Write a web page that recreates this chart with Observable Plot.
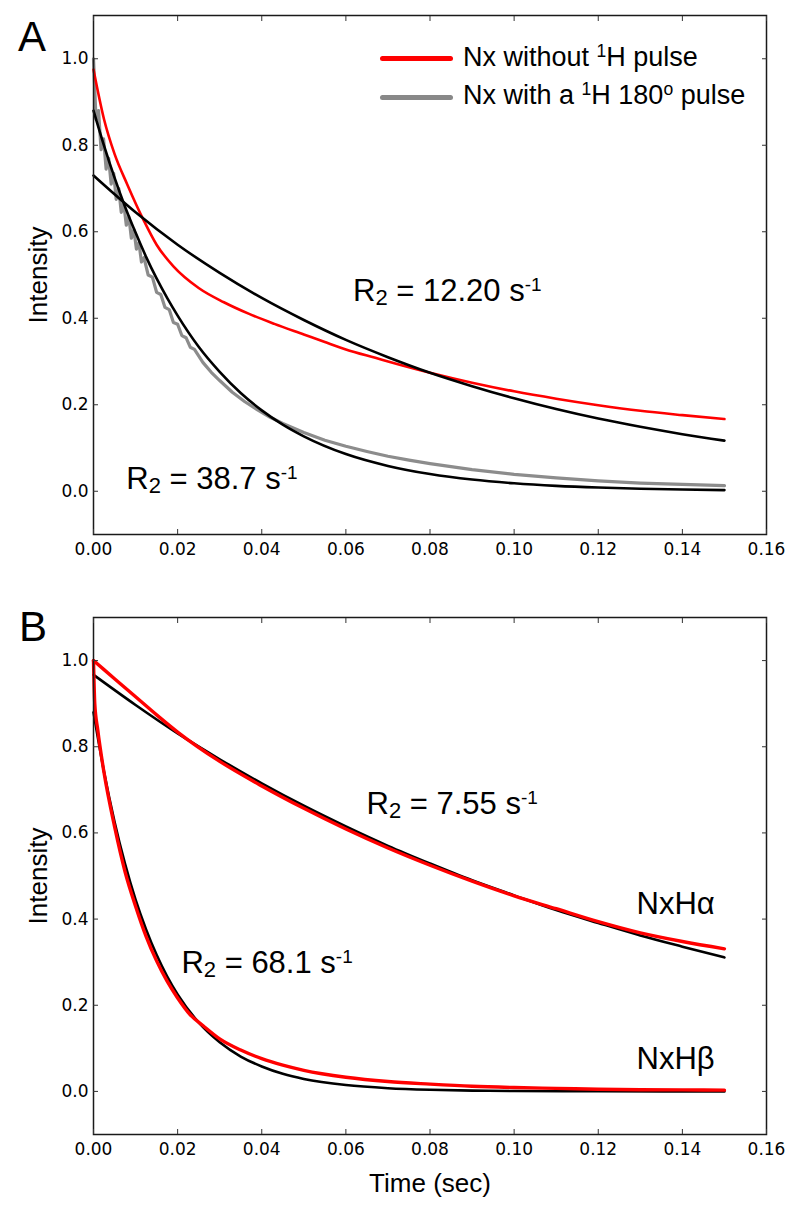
<!DOCTYPE html>
<html>
<head>
<meta charset="utf-8">
<script src="https://cdn.jsdelivr.net/npm/d3@7"></script>
<script src="https://cdn.jsdelivr.net/npm/@observablehq/plot@0.6"></script>
<style>
  body { margin: 0; background: #fff; }
  #wrap { position: relative; width: 800px; height: 1209px; overflow: hidden; }
  .panel { position: absolute; left: 0; }
  .plabel { position: absolute; font-family: "Liberation Sans", Arial, sans-serif; font-size: 42px; line-height: 42px; color: #000; }
  .lgtext { position: absolute; left: 463px; font-family: "Liberation Sans", Arial, sans-serif; font-size: 27px; line-height: 27px; color: #000; white-space: nowrap; }
  .lgtext sup { font-size: 0.65em; line-height: 0; vertical-align: 0.5em; }
  .swatch { position: absolute; left: 380px; width: 73px; height: 5px; border-radius: 3px; }
</style>
</head>
<body>
<div id="wrap">
  <div id="panelA" class="panel" style="top:0px"></div>
  <div id="panelB" class="panel" style="top:590px"></div>
  <div class="plabel" style="left:18px; top:16px">A</div>
  <div class="plabel" style="left:19px; top:606px">B</div>
  <div class="swatch" style="top:56px; background:#ff0000"></div>
  <div class="lgtext" style="top:44px">Nx without <sup>1</sup>H pulse</div>
  <div class="swatch" style="top:95px; background:#888888"></div>
  <div class="lgtext" style="top:82px">Nx with a <sup>1</sup>H 180<sup>o</sup> pulse</div>
</div>
<script>
// ---------- axis ticks ----------
const xTicks = [0, 0.02, 0.04, 0.06, 0.08, 0.10, 0.12, 0.14, 0.16];
const yTicks = [0, 0.2, 0.4, 0.6, 0.8, 1.0];

// ---------- Panel A ----------
// Nx without 1H pulse (red)
const aRedTime = [0, 0.0025, 0.005, 0.008, 0.012, 0.015, 0.019, 0.025, 0.031, 0.037, 0.043, 0.05, 0.055, 0.06, 0.067, 0.073, 0.08, 0.09, 0.10, 0.11, 0.12, 0.13, 0.14, 0.15];
const aRedInt  = [0.975, 0.86, 0.78, 0.71, 0.625, 0.57, 0.52, 0.47, 0.437, 0.41, 0.387, 0.3625, 0.345, 0.328, 0.3085, 0.292, 0.274, 0.251, 0.231, 0.214, 0.199, 0.186, 0.176, 0.167];
// Nx with a 1H 180o pulse (gray)
const aGrayTime = [0, 0.0006, 0.0012, 0.0018, 0.0024, 0.003, 0.0036, 0.0042, 0.0048, 0.0054, 0.006, 0.0066, 0.0072, 0.0078, 0.0084, 0.009, 0.0096, 0.0102, 0.0108, 0.0114, 0.012, 0.013, 0.014, 0.015, 0.016, 0.017, 0.018, 0.019, 0.02, 0.021, 0.022, 0.023, 0.024, 0.026, 0.028, 0.03, 0.033, 0.036, 0.039, 0.042, 0.045, 0.05, 0.055, 0.06, 0.065, 0.07, 0.075, 0.08, 0.09, 0.10, 0.11, 0.12, 0.13, 0.14, 0.15];
const aGrayInt  = [1.0, 0.86, 0.88, 0.79, 0.815, 0.745, 0.77, 0.71, 0.735, 0.675, 0.70, 0.645, 0.665, 0.615, 0.635, 0.585, 0.605, 0.56, 0.575, 0.53, 0.54, 0.5, 0.495, 0.46, 0.455, 0.425, 0.42, 0.39, 0.386, 0.36, 0.355, 0.333, 0.328, 0.298, 0.275, 0.256, 0.229, 0.207, 0.188, 0.171, 0.157, 0.136, 0.118, 0.104, 0.092, 0.081, 0.072, 0.064, 0.05, 0.039, 0.031, 0.024, 0.019, 0.016, 0.013];
// fit R2 = 12.20 s-1 (black)
const aFit1Time = [0, 0.01, 0.02, 0.03, 0.04, 0.05, 0.06, 0.07, 0.08, 0.09, 0.10, 0.11, 0.12, 0.13, 0.14, 0.15];
const aFit1Int  = [0.73, 0.645, 0.57, 0.505, 0.447, 0.396, 0.35, 0.31, 0.274, 0.243, 0.215, 0.19, 0.168, 0.149, 0.132, 0.117];
// fit R2 = 38.7 s-1 (black)
const aFit2Time = [0, 0.0025, 0.005, 0.0075, 0.01, 0.0125, 0.015, 0.0175, 0.02, 0.025, 0.03, 0.035, 0.04, 0.045, 0.05, 0.06, 0.07, 0.08, 0.09, 0.10, 0.11, 0.12, 0.13, 0.14, 0.15];
const aFit2Int  = [0.88, 0.799, 0.725, 0.658, 0.598, 0.542, 0.492, 0.447, 0.406, 0.334, 0.276, 0.227, 0.187, 0.154, 0.127, 0.086, 0.0586, 0.0398, 0.027, 0.0184, 0.0125, 0.0085, 0.0057, 0.0039, 0.0027];
const aNotes = ["R2 = 12.20 s-1", "R2 = 38.7 s-1"];

// ---------- Panel B ----------
// NxHα data (red) and fit R2 = 7.55 s-1
const bAlphaTime = [0, 0.0025, 0.005, 0.0075, 0.01, 0.015, 0.02, 0.03, 0.04, 0.05, 0.06, 0.07, 0.08, 0.09, 0.10, 0.11, 0.12, 0.13, 0.14, 0.15];
const bAlphaInt  = [1.0, 0.979, 0.958, 0.937, 0.916, 0.874, 0.834, 0.766, 0.709, 0.657, 0.609, 0.565, 0.525, 0.488, 0.454, 0.424, 0.394, 0.368, 0.348, 0.331];
const bAlphaFitTime = [0, 0.01, 0.02, 0.03, 0.04, 0.05, 0.06, 0.07, 0.08, 0.09, 0.10, 0.11, 0.12, 0.13, 0.14, 0.15];
const bAlphaFitInt  = [0.967, 0.897, 0.831, 0.771, 0.715, 0.663, 0.615, 0.57, 0.529, 0.49, 0.455, 0.421, 0.391, 0.362, 0.336, 0.311];
// NxHβ data (red) and fit R2 = 68.1 s-1
const bBetaTime = [0, 0.0003, 0.001, 0.0025, 0.005, 0.0075, 0.01, 0.0125, 0.015, 0.0175, 0.02, 0.023, 0.026, 0.03, 0.035, 0.04, 0.045, 0.05, 0.06, 0.07, 0.08, 0.09, 0.10, 0.11, 0.12, 0.13, 0.14, 0.15];
const bBetaInt  = [1.0, 0.9, 0.84, 0.74, 0.615, 0.51, 0.43, 0.36, 0.303, 0.256, 0.217, 0.178, 0.153, 0.122, 0.096, 0.076, 0.061, 0.049, 0.033, 0.023, 0.017, 0.012, 0.009, 0.007, 0.005, 0.004, 0.0035, 0.003];
const bBetaFitTime = [0, 0.0025, 0.005, 0.0075, 0.01, 0.0125, 0.015, 0.0175, 0.02, 0.025, 0.03, 0.035, 0.04, 0.045, 0.05, 0.06, 0.07, 0.08, 0.09, 0.10, 0.12, 0.15];
const bBetaFitInt  = [0.88, 0.742, 0.626, 0.528, 0.445, 0.376, 0.317, 0.267, 0.225, 0.16, 0.114, 0.081, 0.058, 0.041, 0.029, 0.0148, 0.0075, 0.0038, 0.0019, 0.001, 0.0003, 0.0];
const bNotes = ["R2 = 7.55 s-1", "R2 = 68.1 s-1", "NxHα", "NxHβ"];

const yLabel = "Intensity";
const xLabel = "Time (sec)";

// ---------- helpers ----------
const pts = (ts, vs) => ts.map((t, i) => ({t, v: vs[i]}));
const annotFont = "'Liberation Sans', Arial, sans-serif";
const note = (label, t, v) => Plot.text([{t, v, label}], {x: "t", y: "v", text: "label", textAnchor: "start", lineAnchor: "middle", fontSize: 31, fontFamily: annotFont, fill: "black"});

function frameAxes() {
  return [
    Plot.frame({stroke: "#1a1a1a", strokeWidth: 1.5}),
    Plot.axisX(xTicks, {anchor: "bottom", tickSize: -5, fill: "none", label: null, stroke: "#333"}),
    Plot.axisX(xTicks, {anchor: "top", tickSize: -5, fill: "none", label: null, stroke: "#333"}),
    Plot.axisY(yTicks, {anchor: "left", tickSize: -5, fill: "none", label: null, stroke: "#333"}),
    Plot.axisY(yTicks, {anchor: "right", tickSize: -5, fill: "none", label: null, stroke: "#333"}),
    Plot.axisX(xTicks, {anchor: "bottom", tickSize: 0, tickPadding: 8, tickFormat: d3.format(".2f"), label: null}),
    Plot.axisY(yTicks, {anchor: "left", tickSize: 0, tickPadding: 5, tickFormat: d3.format(".1f"), label: null}),
    Plot.text([yLabel], {text: d => d, frameAnchor: "left", textAnchor: "middle", lineAnchor: "middle", rotate: -90, dx: -55, fontSize: 26, fontFamily: annotFont, fill: "black"})
  ];
}

function makePlot(height, marginTop, marginBottom, marks) {
  return Plot.plot({
    width: 800, height, marginLeft: 93, marginRight: 34, marginTop, marginBottom,
    style: {fontFamily: "'DejaVu Sans', sans-serif", fontSize: "17px", color: "black", background: "white", overflow: "visible"},
    x: {domain: [0, 0.16]},
    y: {domain: [-0.1, 1.1]},
    marks
  });
}

function richify(svg) {
  d3.select(svg).selectAll("text").each(function () {
    const s = this.textContent;
    const m = s.match(/^R2 = (.+) s-1$/);
    if (!m) return;
    const t = d3.select(this);
    t.text(null);
    t.append("tspan").text("R");
    t.append("tspan").attr("font-size", "22px").attr("dy", "4").text("2");
    t.append("tspan").attr("dy", "-4").text(" = " + m[1] + " s");
    t.append("tspan").attr("font-size", "19px").attr("dy", "-10").text("-1");
  });
}

// ---------- Panel A ----------
const plotA = makePlot(590, 15, 56, [
  Plot.line(pts(aGrayTime, aGrayInt), {x: "t", y: "v", stroke: "#8c8c8c", strokeWidth: 3.2, curve: "linear"}),
  Plot.line(pts(aRedTime, aRedInt), {x: "t", y: "v", stroke: "#ff0000", strokeWidth: 2.6, curve: "monotone-x"}),
  Plot.line(pts(aFit1Time, aFit1Int), {x: "t", y: "v", stroke: "black", strokeWidth: 2.6, curve: "monotone-x"}),
  Plot.line(pts(aFit2Time, aFit2Int), {x: "t", y: "v", stroke: "black", strokeWidth: 2.6, curve: "monotone-x"}),
  note(aNotes[0], 0.0617, 0.462),
  note(aNotes[1], 0.0078, 0.028),
  ...frameAxes()
]);
richify(plotA);
document.getElementById("panelA").appendChild(plotA);

// ---------- Panel B ----------
const plotB = makePlot(619, 27, 75, [
  Plot.line(pts(bAlphaFitTime, bAlphaFitInt), {x: "t", y: "v", stroke: "black", strokeWidth: 2.6, curve: "monotone-x"}),
  Plot.line(pts(bBetaFitTime, bBetaFitInt), {x: "t", y: "v", stroke: "black", strokeWidth: 2.6, curve: "monotone-x"}),
  Plot.line(pts(bAlphaTime, bAlphaInt), {x: "t", y: "v", stroke: "#ff0000", strokeWidth: 3.4, curve: "monotone-x"}),
  Plot.line(pts(bBetaTime, bBetaInt), {x: "t", y: "v", stroke: "#ff0000", strokeWidth: 3.4, curve: "monotone-x"}),
  note(bNotes[0], 0.0649, 0.667),
  note(bNotes[1], 0.0209, 0.299),
  note(bNotes[2], 0.1291, 0.435),
  note(bNotes[3], 0.1291, 0.075),
  ...frameAxes(),
  Plot.text([xLabel], {text: d => d, frameAnchor: "bottom", textAnchor: "middle", lineAnchor: "middle", dy: 49, fontSize: 26, fontFamily: annotFont, fill: "black"})
]);
richify(plotB);
document.getElementById("panelB").appendChild(plotB);
</script>
</body>
</html>
